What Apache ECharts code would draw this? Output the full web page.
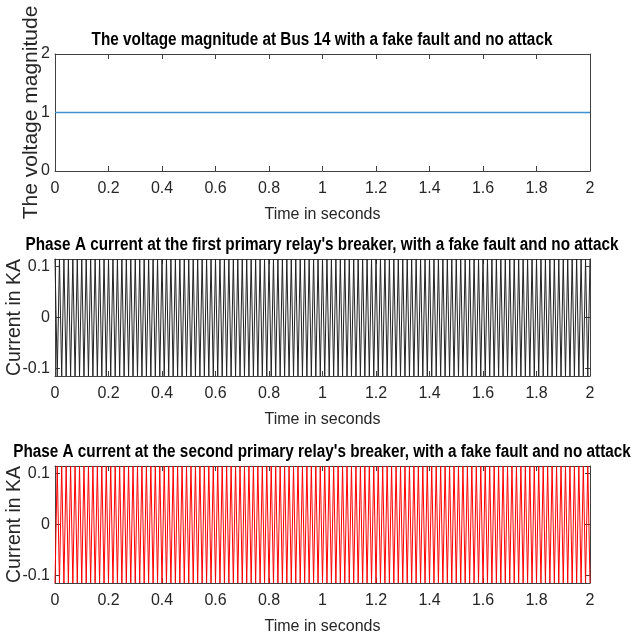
<!DOCTYPE html>
<html>
<head>
<meta charset="utf-8">
<script src="https://cdn.jsdelivr.net/npm/echarts@6/dist/echarts.min.js"></script>
<style>
  html, body { margin: 0; padding: 0; background: #fff; }
  #main { width: 633px; height: 635px; }
</style>
</head>
<body>
<div id="main"></div>
<script>
// tick labels
const timeTicks = [0, 0.2, 0.4, 0.6, 0.8, 1, 1.2, 1.4, 1.6, 1.8, 2];
const voltTicks = [0, 1, 2];
const currentTicks = [-0.1, 0, 0.1];

// voltage magnitude at bus 14 (flat at 1)
const voltTime = [0, 2];
const voltValue = [1, 1];

// peak / trough times of the 60 Hz phase A currents (s)
const peakTime = [
  0,0.0083,0.0167,0.025,0.0333,0.0417,0.05,0.0583,0.0667,0.075,0.0833,0.0917,
  0.1,0.1083,0.1167,0.125,0.1333,0.1417,0.15,0.1583,0.1667,0.175,0.1833,0.1917,
  0.2,0.2083,0.2167,0.225,0.2333,0.2417,0.25,0.2583,0.2667,0.275,0.2833,0.2917,
  0.3,0.3083,0.3167,0.325,0.3333,0.3417,0.35,0.3583,0.3667,0.375,0.3833,0.3917,
  0.4,0.4083,0.4167,0.425,0.4333,0.4417,0.45,0.4583,0.4667,0.475,0.4833,0.4917,
  0.5,0.5083,0.5167,0.525,0.5333,0.5417,0.55,0.5583,0.5667,0.575,0.5833,0.5917,
  0.6,0.6083,0.6167,0.625,0.6333,0.6417,0.65,0.6583,0.6667,0.675,0.6833,0.6917,
  0.7,0.7083,0.7167,0.725,0.7333,0.7417,0.75,0.7583,0.7667,0.775,0.7833,0.7917,
  0.8,0.8083,0.8167,0.825,0.8333,0.8417,0.85,0.8583,0.8667,0.875,0.8833,0.8917,
  0.9,0.9083,0.9167,0.925,0.9333,0.9417,0.95,0.9583,0.9667,0.975,0.9833,0.9917,
  1,1.0083,1.0167,1.025,1.0333,1.0417,1.05,1.0583,1.0667,1.075,1.0833,1.0917,
  1.1,1.1083,1.1167,1.125,1.1333,1.1417,1.15,1.1583,1.1667,1.175,1.1833,1.1917,
  1.2,1.2083,1.2167,1.225,1.2333,1.2417,1.25,1.2583,1.2667,1.275,1.2833,1.2917,
  1.3,1.3083,1.3167,1.325,1.3333,1.3417,1.35,1.3583,1.3667,1.375,1.3833,1.3917,
  1.4,1.4083,1.4167,1.425,1.4333,1.4417,1.45,1.4583,1.4667,1.475,1.4833,1.4917,
  1.5,1.5083,1.5167,1.525,1.5333,1.5417,1.55,1.5583,1.5667,1.575,1.5833,1.5917,
  1.6,1.6083,1.6167,1.625,1.6333,1.6417,1.65,1.6583,1.6667,1.675,1.6833,1.6917,
  1.7,1.7083,1.7167,1.725,1.7333,1.7417,1.75,1.7583,1.7667,1.775,1.7833,1.7917,
  1.8,1.8083,1.8167,1.825,1.8333,1.8417,1.85,1.8583,1.8667,1.875,1.8833,1.8917,
  1.9,1.9083,1.9167,1.925,1.9333,1.9417,1.95,1.9583,1.9667,1.975,1.9833,1.9917,
  2
];

// first primary relay breaker current (kA), read as +/-0.115 peaks
const relay1Current = [
  0.115,-0.115,0.115,-0.115,0.115,-0.115,0.115,-0.115,0.115,-0.115,0.115,-0.115,
  0.115,-0.115,0.115,-0.115,0.115,-0.115,0.115,-0.115,0.115,-0.115,0.115,-0.115,
  0.115,-0.115,0.115,-0.115,0.115,-0.115,0.115,-0.115,0.115,-0.115,0.115,-0.115,
  0.115,-0.115,0.115,-0.115,0.115,-0.115,0.115,-0.115,0.115,-0.115,0.115,-0.115,
  0.115,-0.115,0.115,-0.115,0.115,-0.115,0.115,-0.115,0.115,-0.115,0.115,-0.115,
  0.115,-0.115,0.115,-0.115,0.115,-0.115,0.115,-0.115,0.115,-0.115,0.115,-0.115,
  0.115,-0.115,0.115,-0.115,0.115,-0.115,0.115,-0.115,0.115,-0.115,0.115,-0.115,
  0.115,-0.115,0.115,-0.115,0.115,-0.115,0.115,-0.115,0.115,-0.115,0.115,-0.115,
  0.115,-0.115,0.115,-0.115,0.115,-0.115,0.115,-0.115,0.115,-0.115,0.115,-0.115,
  0.115,-0.115,0.115,-0.115,0.115,-0.115,0.115,-0.115,0.115,-0.115,0.115,-0.115,
  0.115,-0.115,0.115,-0.115,0.115,-0.115,0.115,-0.115,0.115,-0.115,0.115,-0.115,
  0.115,-0.115,0.115,-0.115,0.115,-0.115,0.115,-0.115,0.115,-0.115,0.115,-0.115,
  0.115,-0.115,0.115,-0.115,0.115,-0.115,0.115,-0.115,0.115,-0.115,0.115,-0.115,
  0.115,-0.115,0.115,-0.115,0.115,-0.115,0.115,-0.115,0.115,-0.115,0.115,-0.115,
  0.115,-0.115,0.115,-0.115,0.115,-0.115,0.115,-0.115,0.115,-0.115,0.115,-0.115,
  0.115,-0.115,0.115,-0.115,0.115,-0.115,0.115,-0.115,0.115,-0.115,0.115,-0.115,
  0.115,-0.115,0.115,-0.115,0.115,-0.115,0.115,-0.115,0.115,-0.115,0.115,-0.115,
  0.115,-0.115,0.115,-0.115,0.115,-0.115,0.115,-0.115,0.115,-0.115,0.115,-0.115,
  0.115,-0.115,0.115,-0.115,0.115,-0.115,0.115,-0.115,0.115,-0.115,0.115,-0.115,
  0.115,-0.115,0.115,-0.115,0.115,-0.115,0.115,-0.115,0.115,-0.115,0.115,-0.115,
  0.115
];

// second primary relay breaker current (kA)
const relay2Current = [
  -0.115,0.115,-0.115,0.115,-0.115,0.115,-0.115,0.115,-0.115,0.115,-0.115,0.115,
  -0.115,0.115,-0.115,0.115,-0.115,0.115,-0.115,0.115,-0.115,0.115,-0.115,0.115,
  -0.115,0.115,-0.115,0.115,-0.115,0.115,-0.115,0.115,-0.115,0.115,-0.115,0.115,
  -0.115,0.115,-0.115,0.115,-0.115,0.115,-0.115,0.115,-0.115,0.115,-0.115,0.115,
  -0.115,0.115,-0.115,0.115,-0.115,0.115,-0.115,0.115,-0.115,0.115,-0.115,0.115,
  -0.115,0.115,-0.115,0.115,-0.115,0.115,-0.115,0.115,-0.115,0.115,-0.115,0.115,
  -0.115,0.115,-0.115,0.115,-0.115,0.115,-0.115,0.115,-0.115,0.115,-0.115,0.115,
  -0.115,0.115,-0.115,0.115,-0.115,0.115,-0.115,0.115,-0.115,0.115,-0.115,0.115,
  -0.115,0.115,-0.115,0.115,-0.115,0.115,-0.115,0.115,-0.115,0.115,-0.115,0.115,
  -0.115,0.115,-0.115,0.115,-0.115,0.115,-0.115,0.115,-0.115,0.115,-0.115,0.115,
  -0.115,0.115,-0.115,0.115,-0.115,0.115,-0.115,0.115,-0.115,0.115,-0.115,0.115,
  -0.115,0.115,-0.115,0.115,-0.115,0.115,-0.115,0.115,-0.115,0.115,-0.115,0.115,
  -0.115,0.115,-0.115,0.115,-0.115,0.115,-0.115,0.115,-0.115,0.115,-0.115,0.115,
  -0.115,0.115,-0.115,0.115,-0.115,0.115,-0.115,0.115,-0.115,0.115,-0.115,0.115,
  -0.115,0.115,-0.115,0.115,-0.115,0.115,-0.115,0.115,-0.115,0.115,-0.115,0.115,
  -0.115,0.115,-0.115,0.115,-0.115,0.115,-0.115,0.115,-0.115,0.115,-0.115,0.115,
  -0.115,0.115,-0.115,0.115,-0.115,0.115,-0.115,0.115,-0.115,0.115,-0.115,0.115,
  -0.115,0.115,-0.115,0.115,-0.115,0.115,-0.115,0.115,-0.115,0.115,-0.115,0.115,
  -0.115,0.115,-0.115,0.115,-0.115,0.115,-0.115,0.115,-0.115,0.115,-0.115,0.115,
  -0.115,0.115,-0.115,0.115,-0.115,0.115,-0.115,0.115,-0.115,0.115,-0.115,0.115,
  -0.115
];

const titles = [
  'The voltage magnitude at Bus 14 with a fake fault and no attack',
  "Phase A current at the first primary relay's breaker, with a fake fault and no attack",
  "Phase A current at the second primary relay's breaker, with a fake fault and no attack"
];

const axisColor = '#404040';
const textColor = '#262626';
const gridTops = [54, 259, 466];
const titleY = [40, 245, 452];
const gridHeight = 117;

function pairs(xs, ys) {
  return xs.map((x, i) => [x, ys[i]]);
}

let grids = [], xAxes = [], yAxes = [], titleText = [];
for (let i = 0; i < 3; i++) {
  grids.push({ left: 55, right: 43, top: gridTops[i], height: gridHeight, outerBoundsMode: 'none' });
  // titles are narrow bold in the original, so squeeze them a bit
  titleText.push({
    type: 'text',
    x: 322,
    y: titleY[i],
    scaleX: 0.85,
    style: {
      text: titles[i],
      fontFamily: 'Liberation Sans',
      fontWeight: 'bold',
      fontSize: 18,
      fill: '#000',
      align: 'center',
      verticalAlign: 'middle'
    }
  });
  // bottom x axis, with labels
  xAxes.push({
    gridIndex: i,
    type: 'value',
    position: 'bottom',
    min: 0,
    max: 2,
    interval: 0.2,
    name: 'Time in seconds',
    nameLocation: 'middle',
    nameGap: 36,
    nameTextStyle: { fontFamily: 'Liberation Sans', fontSize: 16, color: textColor },
    axisLine: { show: true, onZero: false, lineStyle: { color: axisColor, width: 1 } },
    axisTick: { show: true, inside: true, length: 5, lineStyle: { color: axisColor } },
    axisLabel: { fontFamily: 'Liberation Sans', fontSize: 16, color: textColor, margin: 10 },
    splitLine: { show: false }
  });
  // top x axis (box + ticks only)
  xAxes.push({
    gridIndex: i,
    type: 'value',
    position: 'top',
    min: 0,
    max: 2,
    interval: 0.2,
    axisLine: { show: true, onZero: false, lineStyle: { color: axisColor, width: 1 } },
    axisTick: { show: true, inside: true, length: 5, lineStyle: { color: axisColor } },
    axisLabel: { show: false },
    splitLine: { show: false }
  });
  const isVolt = i === 0;
  const ticks = isVolt ? voltTicks : currentTicks;
  const yBase = {
    gridIndex: i,
    type: 'value',
    min: isVolt ? 0 : -0.115,
    max: isVolt ? 2 : 0.115,
    splitLine: { show: false },
    axisLine: { show: true, onZero: false, lineStyle: { color: axisColor, width: 1 } },
    axisTick: { show: true, inside: true, length: 5, lineStyle: { color: axisColor }, customValues: ticks }
  };
  if (isVolt) yBase.interval = 1;
  yAxes.push(Object.assign({}, yBase, {
    position: 'left',
    name: isVolt ? 'The voltage magnitude' : 'Current in KA',
    nameLocation: 'middle',
    nameGap: isVolt ? 13 : 30,
    nameMoveOverlap: false,
    nameTextStyle: { fontFamily: 'Liberation Sans', fontSize: isVolt ? 21 : 19.5, color: textColor },
    axisLabel: { fontFamily: 'Liberation Sans', fontSize: 16, color: textColor, margin: 5, customValues: ticks }
  }));
  yAxes.push(Object.assign({}, yBase, {
    position: 'right',
    axisLabel: { show: false }
  }));
}

const option = {
  animation: false,
  backgroundColor: '#fff',
  graphic: titleText,
  grid: grids,
  xAxis: xAxes,
  yAxis: yAxes,
  series: [
    {
      type: 'line',
      xAxisIndex: 0,
      yAxisIndex: 0,
      data: pairs(voltTime, voltValue),
      showSymbol: false,
      lineStyle: { color: '#3d8fd1', width: 1.5 }
    },
    {
      type: 'line',
      xAxisIndex: 2,
      yAxisIndex: 2,
      data: pairs(peakTime, relay1Current),
      showSymbol: false,
      lineStyle: { color: '#222', width: 1 }
    },
    {
      type: 'line',
      xAxisIndex: 4,
      yAxisIndex: 4,
      data: pairs(peakTime, relay2Current),
      showSymbol: false,
      lineStyle: { color: '#ff0000', width: 1 }
    }
  ]
};

let myChart = echarts.init(document.getElementById('main'));
myChart.setOption(option);
</script>
</body>
</html>
